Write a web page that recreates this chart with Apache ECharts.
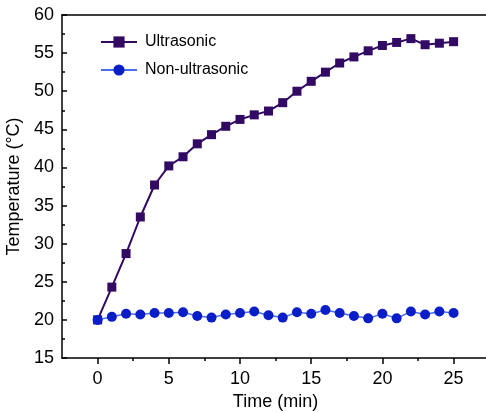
<!DOCTYPE html>
<html>
<head>
<meta charset="utf-8">
<script src="https://cdn.jsdelivr.net/npm/echarts@6/dist/echarts.min.js"></script>
<style>
  html, body { margin: 0; padding: 0; background: #fff; overflow: hidden; }
  #chart { width: 486px; height: 412px; }
</style>
</head>
<body>
<div id="chart"></div>
<script>
// Sampling times (min)
const times = [0, 1, 2, 3, 4, 5, 6, 7, 8, 9, 10, 11, 12, 13, 14, 15, 16, 17, 18, 19, 20, 21, 22, 23, 24, 25];

// Temperature readings (°C)
const ultrasonic = [20.0, 24.3, 28.7, 33.5, 37.7, 40.2, 41.4, 43.1, 44.3, 45.4, 46.3, 46.9, 47.4, 48.5, 50.0, 51.3, 52.5, 53.7, 54.5, 55.3, 56.0, 56.4, 56.9, 56.1, 56.3, 56.5];
const nonUltrasonic = [20.0, 20.4, 20.8, 20.7, 20.9, 20.9, 21.0, 20.5, 20.3, 20.7, 20.9, 21.1, 20.6, 20.3, 21.0, 20.8, 21.3, 20.9, 20.5, 20.2, 20.8, 20.2, 21.1, 20.7, 21.1, 20.9];

// Axis tick positions
const xMajorTicks = [0, 5, 10, 15, 20, 25];
const xMinorTicks = [2.5, 7.5, 12.5, 17.5, 22.5];

const pair = (vals) => times.map((t, i) => [t, vals[i]]);

const font = 'Liberation Sans, Arial, sans-serif';
const spine = { color: '#000', width: 1.5 };
const chart = echarts.init(document.getElementById('chart'));

// x range runs past the right edge of the canvas, so the right frame is off-screen
const xMin = -2.5, xMax = 28.75;

chart.setOption({
  animation: false,
  backgroundColor: '#fff',
  grid: {
    left: 62, top: 15, right: -21, bottom: 54,
    outerBoundsMode: 'none', containLabel: false, show: false
  },
  legend: {
    left: 95, top: 29, orient: 'vertical',
    itemWidth: 36, itemHeight: 14, itemGap: 12,
    textStyle: { fontFamily: font, fontSize: 16, color: '#000', padding: [0, 0, 0, 3] },
    data: ['Ultrasonic', 'Non-ultrasonic']
  },
  xAxis: [
    {
      type: 'value', min: xMin, max: xMax,
      name: 'Time (min)', nameLocation: 'middle', nameGap: 33,
      nameTextStyle: { fontFamily: font, fontSize: 18, color: '#000', padding: [0, 18, 0, 0] },
      axisLine: { show: true, onZero: false, lineStyle: spine },
      axisTick: { show: true, inside: false, length: 6, customValues: xMajorTicks, lineStyle: spine },
      axisLabel: { customValues: xMajorTicks, margin: 12, fontFamily: font, fontSize: 18, color: '#000' },
      splitLine: { show: false }
    },
    {
      // minor ticks between the labelled values
      type: 'value', min: xMin, max: xMax, position: 'bottom',
      axisLine: { show: false, onZero: false },
      axisTick: { show: true, inside: false, length: 3, customValues: xMinorTicks, lineStyle: spine },
      axisLabel: { show: false },
      splitLine: { show: false }
    },
    {
      // top frame line
      type: 'value', min: xMin, max: xMax, position: 'top',
      axisLine: { show: true, onZero: false, lineStyle: spine },
      axisTick: { show: false },
      axisLabel: { show: false },
      splitLine: { show: false }
    }
  ],
  yAxis: {
    type: 'value', min: 15, max: 60, interval: 5,
    name: 'Temperature (°C)', nameLocation: 'middle', nameGap: 35,
    nameTextStyle: { fontFamily: font, fontSize: 18, color: '#000' },
    axisLine: { show: true, onZero: false, lineStyle: spine },
    axisTick: { show: true, inside: true, length: 5, lineStyle: spine },
    minorTick: { show: true, splitNumber: 2, length: 3, lineStyle: spine },
    axisLabel: { margin: 8, fontFamily: font, fontSize: 18, color: '#000' },
    splitLine: { show: false }
  },
  series: [
    {
      name: 'Ultrasonic', type: 'line', xAxisIndex: 0,
      data: pair(ultrasonic),
      symbol: 'rect', symbolSize: 9,
      lineStyle: { color: '#320a64', width: 2 },
      itemStyle: { color: '#320a64' }
    },
    {
      name: 'Non-ultrasonic', type: 'line', xAxisIndex: 0,
      data: pair(nonUltrasonic),
      symbol: 'circle', symbolSize: 10,
      lineStyle: { color: '#4a6ef0', width: 1.5 },
      itemStyle: { color: '#0a1ec8' }
    }
  ]
});
</script>
</body>
</html>
